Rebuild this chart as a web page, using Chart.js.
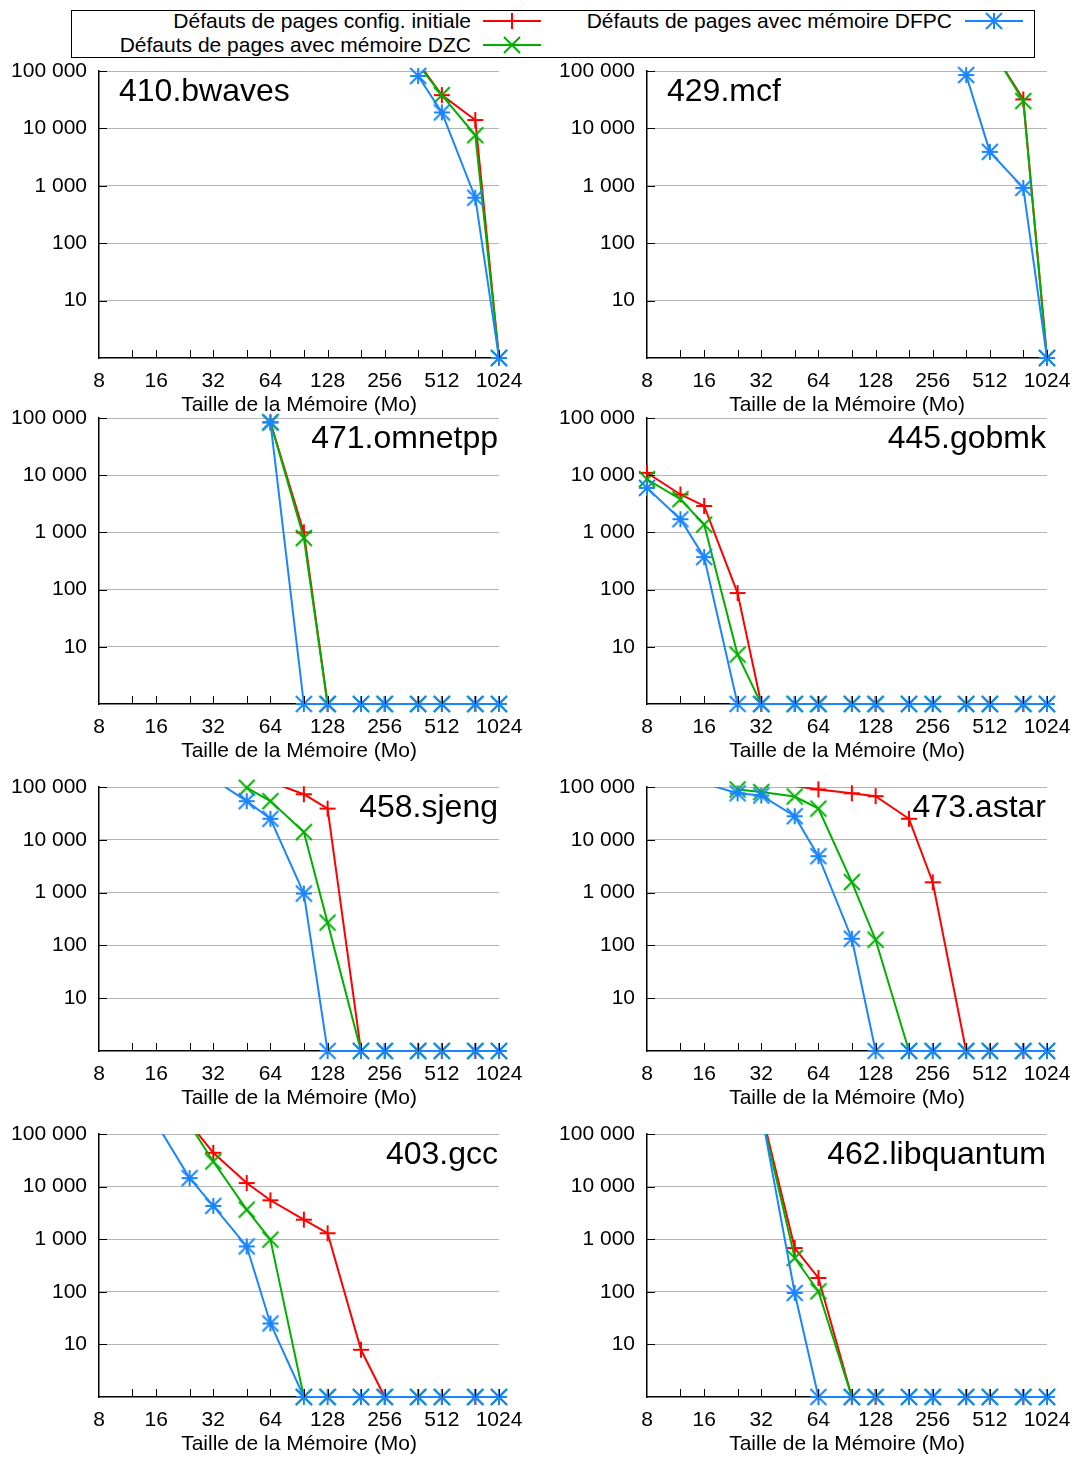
<!DOCTYPE html>
<html lang="fr">
<head>
<meta charset="utf-8">
<title>Défauts de pages selon la taille de la mémoire</title>
<script src="https://cdn.jsdelivr.net/npm/chart.js@4.4.1/dist/chart.umd.min.js"></script>
<style>
  html, body { margin: 0; padding: 0; background: #fff; }
  body { width: 1074px; height: 1457px; position: relative; overflow: hidden;
         font-family: "Liberation Sans", Arial, Helvetica, sans-serif; }
  canvas.panel { position: absolute; }
  #legend { position: absolute; left: 71px; top: 10px; width: 962px; height: 46px; border: 1px solid #000; }
  #legend .txt { position: absolute; font-size: 21px; line-height: 24px; white-space: nowrap; color: #000; }
  #legend canvas { position: absolute; }
</style>
</head>
<body>
<div id="legend"></div>
<script>
// memory sizes (Mo) measured for every benchmark
const memSizes = [8, 12, 16, 24, 32, 48, 64, 96, 128, 192, 256, 384, 512, 768, 1024];
const xLabels = [8, 16, 32, 64, 128, 256, 512, 1024];
const yTicks = [10, 100, 1000, 10000, 100000];
const seriesNames = [
  "Défauts de pages config. initiale",
  "Défauts de pages avec mémoire DZC",
  "Défauts de pages avec mémoire DFPC"
];

// page faults, one value per memory size (null = no measure, 0 = no fault)
const _ = null;
const bwavesInit = [_, _, _, _, _, _, _, _, _, _, _, 140000, 38000, 14000, 0];
const bwavesDzc  = [_, _, _, _, _, _, _, _, _, _, _, 130000, 38000, 7600, 0];
const bwavesDfpc = [_, _, _, _, _, _, _, _, _, _, _, 82000, 19000, 620, 0];

const mcfInit = [_, _, _, _, _, _, _, _, _, _, _, _, 270000, 32000, 0];
const mcfDzc  = [_, _, _, _, _, _, _, _, _, _, _, _, 270000, 30000, 0];
const mcfDfpc = [_, _, _, _, _, _, _, _, _, _, _, 85000, 3900, 920, 0];

const omnetppInit = [_, _, _, _, _, _, 84000, 1000, 0, 0, 0, 0, 0, 0, 0];
const omnetppDzc  = [_, _, _, _, _, _, 84000, 800, 0, 0, 0, 0, 0, 0, 0];
const omnetppDfpc = [_, _, _, _, _, _, 84000, 0, 0, 0, 0, 0, 0, 0, 0];

const gobmkInit = [11000, 4600, 2900, 87, 0, 0, 0, 0, 0, 0, 0, 0, 0, 0, 0];
const gobmkDzc  = [8500, 3800, 1370, 7.3, 0, 0, 0, 0, 0, 0, 0, 0, 0, 0, 0];
const gobmkDfpc = [6000, 1700, 370, 0, 0, 0, 0, 0, 0, 0, 0, 0, 0, 0, 0];

const sjengInit = [_, _, _, _, _, _, 125000, 73000, 39000, 0, 0, 0, 0, 0, 0];
const sjengDzc  = [_, _, _, _, _, 97000, 54000, 14000, 270, 0, 0, 0, 0, 0, 0];
const sjengDfpc = [_, _, _, _, 140000, 54000, 25000, 960, 0, 0, 0, 0, 0, 0, 0];

const astarInit = [_, _, _, _, _, 104000, 90000, 76000, 67000, 25000, 1570, 0, 0, 0, 0];
const astarDzc  = [_, _, _, 90000, 80000, 66000, 39000, 1580, 128, 0, 0, 0, 0, 0, 0];
const astarDfpc = [_, _, 117000, 76000, 69000, 28000, 4900, 134, 0, 0, 0, 0, 0, 0, 0];

const gccInit = [_, _, _, 160000, 44000, 11700, 5500, 2350, 1300, 7.9, 0, 0, 0, 0, 0];
const gccDzc  = [_, _, _, 152000, 30000, 3650, 980, 0, 0, 0, 0, 0, 0, 0, 0];
const gccDfpc = [_, _, 162000, 14500, 4300, 730, 25, 0, 0, 0, 0, 0, 0, 0, 0];

const libquantumInit = [_, _, _, _, 276000, 680, 183, 0, 0, 0, 0, 0, 0, 0, 0];
const libquantumDzc  = [_, _, _, _, 240000, 440, 102, 0, 0, 0, 0, 0, 0, 0, 0];
const libquantumDfpc = [_, _, _, _, 260000, 95, 0, 0, 0, 0, 0, 0, 0, 0, 0];

const panels = [
  { name: "410.bwaves",     series: [bwavesInit, bwavesDzc, bwavesDfpc],             col: 0, row: 0, align: "left" },
  { name: "429.mcf",        series: [mcfInit, mcfDzc, mcfDfpc],                      col: 1, row: 0, align: "left" },
  { name: "471.omnetpp",    series: [omnetppInit, omnetppDzc, omnetppDfpc],          col: 0, row: 1, align: "right" },
  { name: "445.gobmk",      series: [gobmkInit, gobmkDzc, gobmkDfpc],                col: 1, row: 1, align: "right" },
  { name: "458.sjeng",      series: [sjengInit, sjengDzc, sjengDfpc],                col: 0, row: 2, align: "right" },
  { name: "473.astar",      series: [astarInit, astarDzc, astarDfpc],                col: 1, row: 2, align: "right" },
  { name: "403.gcc",        series: [gccInit, gccDzc, gccDfpc],                      col: 0, row: 3, align: "right" },
  { name: "462.libquantum", series: [libquantumInit, libquantumDzc, libquantumDfpc], col: 1, row: 3, align: "right" }
];

// look
const colors = ["#ff0000", "#00b000", "#1a85ff"];
const marks = ["+", "x", "*"];
const FONT = '"Liberation Sans", Arial, Helvetica, sans-serif';
const Y_MIN = 1, Y_MAX = 100000;
const colLeft = [0, 548];
const rowArea = [[71, 358], [418, 704], [787, 1051], [1134, 1397]];
const CANVAS_W = 526, AXIS_W = 99, PLOT_W = 400, PAD_TOP = 15, XAXIS_H = 60;

Chart.defaults.font.family = FONT;
Chart.defaults.font.size = 21;
Chart.defaults.color = "#000";

function makeMarker(kind, color) {
  const c = document.createElement("canvas");
  c.width = 20; c.height = 20;
  const g = c.getContext("2d");
  const m = 10, h = 8;
  g.strokeStyle = color;
  g.lineWidth = 2;
  g.beginPath();
  if (kind !== "x") { g.moveTo(m - h, m); g.lineTo(m + h, m); g.moveTo(m, m - h); g.lineTo(m, m + h); }
  if (kind !== "+") { g.moveTo(m - h, m - h); g.lineTo(m + h, m + h); g.moveTo(m - h, m + h); g.lineTo(m + h, m - h); }
  g.stroke();
  return c;
}
const markerImgs = marks.map((k, i) => makeMarker(k, colors[i]));

function spaced(v) {
  return String(v).replace(/\B(?=(\d{3})+(?!\d))/g, " ");
}

// inward tick marks + benchmark name inside the plot
const innerTicks = {
  id: "innerTicks",
  afterDraw(chart, args, opts) {
    const { ctx, chartArea: a, scales: { x, y } } = chart;
    ctx.save();
    ctx.strokeStyle = "#000";
    ctx.lineWidth = 1;
    ctx.beginPath();
    memSizes.slice(1).forEach(m => {
      const px = Math.round(x.getPixelForValue(m)) + 0.5;
      ctx.moveTo(px, a.bottom);
      ctx.lineTo(px, a.bottom - 8);
    });
    yTicks.forEach(v => {
      const py = Math.round(y.getPixelForValue(v)) + 0.5;
      ctx.moveTo(a.left, py);
      ctx.lineTo(a.left + 8, py);
    });
    ctx.stroke();
    ctx.font = "32px " + FONT;
    ctx.fillStyle = "#000";
    ctx.textBaseline = "middle";
    if (opts.align === "left") {
      ctx.textAlign = "left";
      ctx.fillText(opts.text, a.left + 20, a.top + 21);
    } else {
      ctx.textAlign = "right";
      ctx.fillText(opts.text, a.right - 1, a.top + 21);
    }
    ctx.restore();
  }
};

function buildDatasets(series) {
  const sets = [];
  series.forEach((vals, s) => {
    const pts = [];
    vals.forEach((v, i) => {
      // zero faults sit on the floor of the log axis
      if (v !== null) pts.push({ x: memSizes[i], y: v === 0 ? Y_MIN : v });
    });
    const order = 2 - s; // DFPC on top
    sets.push({
      label: seriesNames[s], data: pts, borderColor: colors[s], borderWidth: 2,
      pointRadius: 0, fill: false, tension: 0, order,
      clip: { left: 0, top: 0, right: 2, bottom: 2 }
    });
    sets.push({
      label: seriesNames[s], data: pts.filter(p => p.y <= Y_MAX), showLine: false,
      pointStyle: markerImgs[s], pointRadius: 8, order, clip: false
    });
  });
  return sets;
}

panels.forEach(p => {
  const [top, bottom] = rowArea[p.row];
  const cv = document.createElement("canvas");
  cv.className = "panel";
  cv.width = CANVAS_W;
  cv.height = PAD_TOP + (bottom - top) + XAXIS_H;
  cv.style.left = colLeft[p.col] + "px";
  cv.style.top = (top - PAD_TOP) + "px";
  document.body.appendChild(cv);

  new Chart(cv, {
    type: "line",
    data: { datasets: buildDatasets(p.series) },
    plugins: [innerTicks],
    options: {
      responsive: false,
      animation: false,
      events: [],
      layout: { autoPadding: false, padding: { top: PAD_TOP, right: CANVAS_W - AXIS_W - PLOT_W, bottom: 0, left: 0 } },
      plugins: {
        legend: { display: false },
        tooltip: { enabled: false },
        innerTicks: { text: p.name, align: p.align }
      },
      scales: {
        x: {
          type: "logarithmic", min: 8, max: 1024,
          afterBuildTicks: s => { s.ticks = xLabels.map(v => ({ value: v })); },
          afterFit: s => { s.height = XAXIS_H; s.paddingLeft = 0; s.paddingRight = 0; },
          ticks: { autoSkip: false, maxRotation: 0, padding: 11, callback: v => String(v) },
          grid: { display: false, drawTicks: false },
          border: { display: true, color: "#000", width: 1.5 },
          title: { display: true, text: "Taille de la Mémoire (Mo)", padding: 0 }
        },
        y: {
          type: "logarithmic", min: Y_MIN, max: Y_MAX,
          afterBuildTicks: s => { s.ticks = yTicks.map(v => ({ value: v })); },
          afterFit: s => { s.width = AXIS_W; s.paddingTop = 0; s.paddingBottom = 0; },
          ticks: { padding: 12, callback: v => spaced(v) },
          grid: { color: "#b4b4b4", lineWidth: 1, drawTicks: false },
          border: { display: true, color: "#000", width: 1.5 }
        }
      }
    }
  });
});

// legend: text right-aligned, then a line sample with its marker
const legendItems = [
  { s: 0, textRight: 471, sampleLeft: 483, cy: 21 },
  { s: 2, textRight: 952, sampleLeft: 965, cy: 21 },
  { s: 1, textRight: 471, sampleLeft: 483, cy: 45 }
];
const legend = document.getElementById("legend");
const IN_L = 72, IN_T = 11, IN_W = 962;
legendItems.forEach(it => {
  const t = document.createElement("div");
  t.className = "txt";
  t.textContent = seriesNames[it.s];
  t.style.right = (IN_W - (it.textRight - IN_L)) + "px";
  t.style.top = (it.cy - IN_T - 12) + "px";
  legend.appendChild(t);

  const c = document.createElement("canvas");
  c.width = 58; c.height = 20;
  c.style.left = (it.sampleLeft - IN_L) + "px";
  c.style.top = (it.cy - IN_T - 10) + "px";
  const g = c.getContext("2d");
  g.strokeStyle = colors[it.s];
  g.lineWidth = 2;
  g.beginPath(); g.moveTo(0, 10); g.lineTo(58, 10); g.stroke();
  g.drawImage(markerImgs[it.s], 19, 0);
  legend.appendChild(c);
});
</script>
</body>
</html>
